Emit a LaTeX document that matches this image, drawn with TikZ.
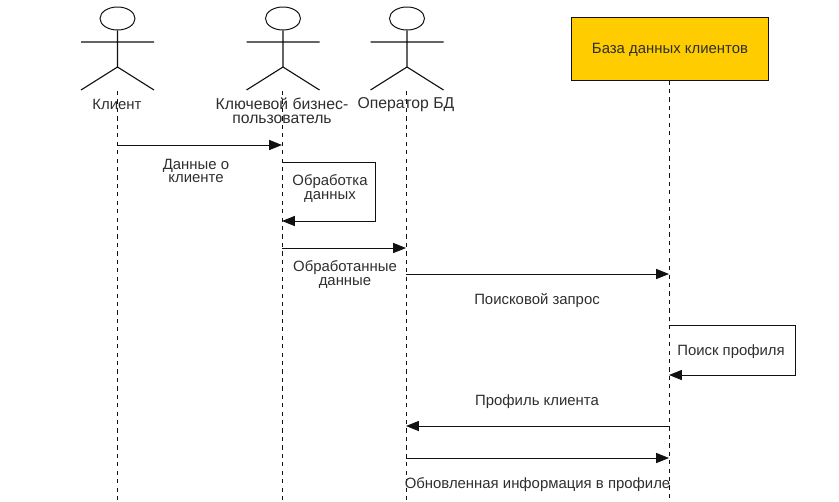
\documentclass[tikz,border=0pt]{standalone}
\usepackage{fontspec}
\setmainfont{Liberation Sans}
\usetikzlibrary{arrows.meta, shapes.geometric}
\definecolor{cgold}{HTML}{FFCC00}
\definecolor{cline}{HTML}{111111}
\definecolor{ctext}{HTML}{2E2E2E}
\tikzset{
  every picture/.style={line width=0.5pt},
  head/.style={ellipse, draw=cline, line width=0.7pt, minimum width=0.875cm, minimum height=0.575cm, inner sep=0pt},
  actorline/.style={draw=cline, line width=0.8pt},
  lifeline/.style={draw=cline, dashed, line width=0.7pt},
  msg/.style={-{Triangle[length=3.2mm, width=2.5mm]}, draw=cline, line width=0.7pt},
  lab/.style={font=\fontsize{10.6}{9.3}\selectfont, text=ctext, align=center, inner sep=0pt},
  labwide/.style={lab, font=\fontsize{11.2}{10}\selectfont},
  dbbox/.style={draw=cline, fill=cgold, line width=0.7pt, minimum width=4.9cm, minimum height=1.575cm, inner sep=0pt},
}

\begin{document}
\begin{tikzpicture}[x=0.025cm, y=-0.025cm]
  \useasboundingbox (0,0) rectangle (839,501);
  % ---- actors and their lifelines
  \foreach \j/\xx in {kl/117.5, kb/283, op/407} {
    \node[head] (h\j) at (\xx,18.5) {};
    \coordinate (hip\j) at (\xx,67);
    \coordinate (arml\j) at (\xx-36.5,42);
    \coordinate (armr\j) at (\xx+36.5,42);
    \coordinate (legl\j) at (\xx-36.5,90);
    \coordinate (legr\j) at (\xx+36.5,90);
    \draw[actorline] (h\j) -- (hip\j) (arml\j) -- (armr\j) (legl\j) -- (hip\j) -- (legr\j);
  }
  \node[dbbox] (db) at (670,48.5) {};
  \node[lab] (tdb) at (670,50) {База данных клиентов};
  \foreach \j/\xx in {kl/117, kb/282, op/406} {
    \coordinate (top\j) at (\xx,91);
    \coordinate (bot\j) at (\xx,501);
    \draw[lifeline] (top\j) -- (bot\j);
  }
  \coordinate (botdb) at (669,501);
  \draw[lifeline] (db.south -| botdb) -- (botdb);
  % ---- actor names
  \node[lab] (tkl) at (117,104) {Клиент};
  \node[labwide] (tkb) at (282,110.5) {Ключевой бизнес-\\пользователь};
  \node[labwide] (top) at (406,104.5) {Оператор БД};
  % ---- messages
  \foreach \j/\xa/\xb/\yy in {1/117/282/145, 2/282/406/248, 3/406/669/274, 4/669/406/426, 5/406/669/458} {
    \coordinate (ma\j) at (\xa,\yy);
    \coordinate (mb\j) at (\xb,\yy);
    \draw[msg] (ma\j) -- (mb\j);
  }
  % self calls
  \coordinate (sa1) at (282,162);
  \coordinate (sb1) at (282,221);
  \draw[msg] (sa1) -- ++(93,0) |- (sb1);
  \coordinate (sa2) at (669,325);
  \coordinate (sb2) at (669,375);
  \draw[msg] (sa2) -- ++(126,0) |- (sb2);
  % ---- labels
  \node[lab] (t1) at (196,171) {Данные о\\клиенте};
  \node[lab] (t2) at (330,188.5) {Обработка\\данных};
  \node[lab] (t3) at (345,274.5) {Обработанные\\данные};
  \node[lab] (t4) at (537,301) {Поисковой запрос};
  \node[lab] (t5) at (731,352) {Поиск профиля};
  \node[lab] (t6) at (537,402) {Профиль клиента};
  \node[lab] (t7) at (537.5,485) {Обновленная информация в профиле};
\end{tikzpicture}
\end{document}
